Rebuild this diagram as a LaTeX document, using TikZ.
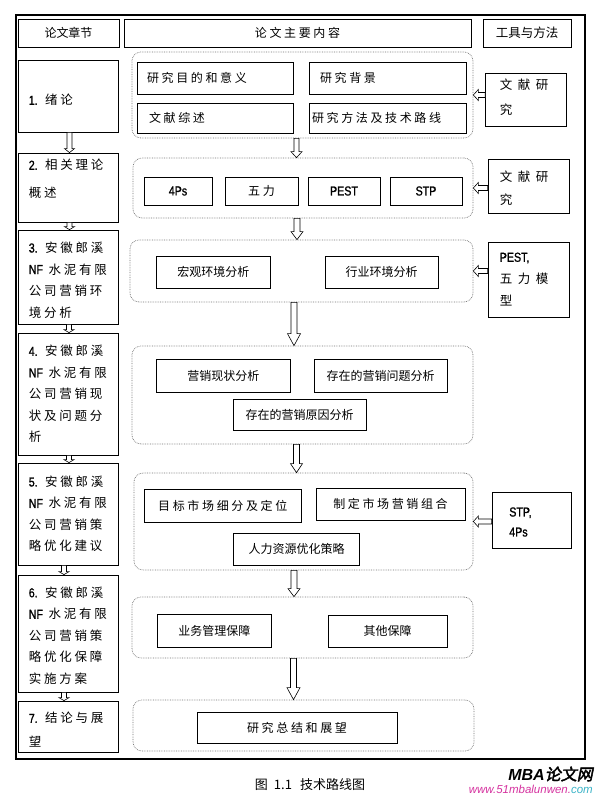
\documentclass[tikz,border=0pt]{standalone}
\usepackage{fontspec}
\setmainfont{Noto Sans CJK SC}
\newfontfamily\cjksp[LetterSpace=22]{Noto Sans CJK SC}
\newfontfamily\wmcjk[FakeSlant=0.2,FakeBold=2.5]{Noto Sans CJK SC}
\newfontfamily\wmlat{Liberation Sans}
\newfontfamily\latb[FakeStretch=0.82,FakeBold=1.2]{Liberation Sans}
\usetikzlibrary{calc}
\definecolor{wmpink}{RGB}{214,51,160}
\definecolor{wmcyan}{RGB}{60,180,200}
\tikzset{
  box/.style={draw, line width=0.8pt, inner sep=0pt},
  grp/.style={draw=black!55, densely dotted, line width=0.7pt, rounded corners=9pt, inner sep=0pt},
  tight/.style={font=\fontsize{12}{14}\selectfont},
  spaced/.style={font=\cjksp\fontsize{12}{14}\selectfont},
  latbox/.style={font=\latb\fontsize{13}{15}\selectfont},
  lefttxt/.style={anchor=west, inner sep=0pt, align=left, font=\cjksp\fontsize{12.5}{21.5}\selectfont},
  blockarrow/.style={draw=black, line width=0.6pt, fill=white},
}
\newcommand\lt[1]{{\latb\fontsize{13}{15}\selectfont #1}}
\newcommand\varr[5]{\draw[blockarrow] let \p1=(#1), \p2=(#2) in
  (\x1-#3pt,\y1) -- (\x1-#3pt,\y2+#5pt) -- (\x1-#4pt,\y2+#5pt) -- (\x1,\y2) --
  (\x1+#4pt,\y2+#5pt) -- (\x1+#3pt,\y2+#5pt) -- (\x1+#3pt,\y1) -- cycle;}
\newcommand\harr[5]{\draw[blockarrow] let \p1=(#1), \p2=(#2) in
  (\x1,\y1+#3pt) -- (\x2+#5pt,\y1+#3pt) -- (\x2+#5pt,\y1+#4pt) -- (\x2,\y1) --
  (\x2+#5pt,\y1-#4pt) -- (\x2+#5pt,\y1-#3pt) -- (\x1,\y1-#3pt) -- cycle;}
\begin{document}
\begin{tikzpicture}[x=1pt,y=-1pt]
\fill[white] (0,0) rectangle (596,796);
\useasboundingbox (0,0) rectangle (596,796);
% outer frame
\draw[line width=1.5pt] (16,15) rectangle (585,759);
% header
\node[box, tight, minimum width=101, minimum height=28] (h1) at (68.5,33) {论文章节};
\node[box, spaced, minimum width=347, minimum height=28] (h2) at (297.5,33) {论文主要内容};
\node[box, font=\fontsize{12.5}{14}\selectfont, minimum width=88, minimum height=28] (h3) at (527,33) {工具与方法};
% left column
\node[box, minimum width=100, minimum height=72] (L1) at (68,96) {};
\node[box, minimum width=100, minimum height=69] (L2) at (68,187.5) {};
\node[box, minimum width=100, minimum height=94] (L3) at (68,277) {};
\node[box, minimum width=100, minimum height=122] (L4) at (68,394) {};
\node[box, minimum width=100, minimum height=102] (L5) at (68,514) {};
\node[box, minimum width=100, minimum height=117] (L6) at (68,633.5) {};
\node[box, minimum width=100, minimum height=51] (L7) at (68,726.5) {};
\node[lefttxt] (L1t) at ($(L1.west)+(11,4)$) {\lt{1.} 绪论};
\node[lefttxt, font=\cjksp\fontsize{12.5}{28}\selectfont] (L2t) at ($(L2.west)+(11,-8.5)$) {\lt{2.} 相关理论\\概述};
\node[lefttxt] (L3t) at ($(L3.west)+(11,3)$) {\lt{3.} 安徽郎溪\\\lt{NF} 水泥有限\\公司营销环\\境分析};
\node[lefttxt] (L4t) at ($(L4.west)+(11,0)$) {\lt{4.} 安徽郎溪\\\lt{NF} 水泥有限\\公司营销现\\状及问题分\\析};
\node[lefttxt] (L5t) at ($(L5.west)+(11,0)$) {\lt{5.} 安徽郎溪\\\lt{NF} 水泥有限\\公司营销策\\略优化建议};
\node[lefttxt] (L6t) at ($(L6.west)+(11,2)$) {\lt{6.} 安徽郎溪\\\lt{NF} 水泥有限\\公司营销策\\略优化保障\\实施方案};
\node[lefttxt, font=\cjksp\fontsize{12.5}{24}\selectfont] (L7t) at ($(L7.west)+(11,3.5)$) {\lt{7.} 结论与展\\望};
% groups
\node[grp, minimum width=341, minimum height=86] (G1) at (302.5,95) {};
\node[grp, minimum width=340, minimum height=60] (G2) at (303,188) {};
\node[grp, minimum width=343, minimum height=62] (G3) at (301.5,271) {};
\node[grp, minimum width=341, minimum height=98] (G4) at (302.5,395) {};
\node[grp, minimum width=339, minimum height=97] (G5) at (303.5,521.5) {};
\node[grp, minimum width=341, minimum height=61] (G6) at (302.5,627.5) {};
\node[grp, minimum width=341, minimum height=51] (G7) at (303.5,725.5) {};
% G1 boxes
\node[box, spaced, align=left, text width=136, inner xsep=10pt, minimum height=32] (a1) at (215,78) {研究目的和意义};
\node[box, spaced, align=left, text width=135, inner xsep=11pt, minimum height=32] (a2) at (387.5,78) {研究背景};
\node[box, spaced, align=left, text width=132, inner xsep=12pt, minimum height=30] (a3) at (215,118) {文献综述};
\node[box, spaced, align=left, text width=151, inner xsep=3pt, minimum height=30] (a4) at (387.5,118) {研究方法及技术路线};
% G2 boxes
\node[box, latbox, minimum width=68, minimum height=28] (p1) at (178,191) {4Ps};
\node[box, spaced, minimum width=73, minimum height=28] (p2) at (261.5,191) {五力};
\node[box, latbox, minimum width=72, minimum height=28] (p3) at (344,191) {PEST};
\node[box, latbox, minimum width=72, minimum height=28] (p4) at (426,191) {STP};
% G3 boxes
\node[box, tight, minimum width=113.5, minimum height=32] (m1) at (213.25,272) {宏观环境分析};
\node[box, tight, minimum width=113, minimum height=32] (m2) at (381.5,272) {行业环境分析};
% G4 boxes
\node[box, tight, minimum width=133.5, minimum height=33] (s1) at (223.25,375.5) {营销现状分析};
\node[box, tight, minimum width=133, minimum height=33] (s2) at (380.5,375.5) {存在的营销问题分析};
\node[box, tight, minimum width=133, minimum height=31] (s3) at (299.5,414.5) {存在的营销原因分析};
% G5 boxes
\node[box, spaced, minimum width=157.5, minimum height=33] (t1) at (222.75,505.5) {目标市场细分及定位};
\node[box, spaced, minimum width=149, minimum height=32] (t2) at (390.5,504) {制定市场营销组合};
\node[box, tight, minimum width=126, minimum height=32] (t3) at (296.5,549) {人力资源优化策略};
% G6 boxes
\node[box, tight, minimum width=113.4, minimum height=33] (u1) at (214.3,630.5) {业务管理保障};
\node[box, tight, minimum width=119, minimum height=32] (u2) at (387.5,631) {其他保障};
% G7 box
\node[box, spaced, minimum width=200, minimum height=31] (v1) at (297,727.5) {研究总结和展望};
% right column
\node[box, minimum width=80.5, minimum height=53] (R1) at (525.75,99.5) {};
\node[box, minimum width=81, minimum height=54] (R2) at (528.5,186) {};
\node[box, minimum width=81, minimum height=75] (R3) at (528.5,279.5) {};
\node[box, minimum width=79, minimum height=56] (R5) at (531.5,520) {};
\node[lefttxt, font=\cjksp\fontsize{12.5}{25}\selectfont] (R1t) at ($(R1.west)+(14.5,-2)$) {文 献 研\\究};
\node[lefttxt, font=\cjksp\fontsize{12.5}{23}\selectfont] (R2t) at ($(R2.west)+(12,2.5)$) {文 献 研\\究};
\node[lefttxt, font=\cjksp\fontsize{12.5}{22}\selectfont] (R3t) at ($(R3.west)+(12,0)$) {\lt{PEST,}\\五 力 模\\型};
\node[lefttxt, font=\cjksp\fontsize{12.5}{20}\selectfont] (R5t) at ($(R5.west)+(17.5,2)$) {\lt{STP,}\\\lt{4Ps}};
% vertical arrows between groups
\varr{$(G1.south)+(-6,0)$}{G2.north}{2.5}{5.5}{6}
\varr{$(G2.south)+(-6,0)$}{G3.north}{3}{6}{8}
\varr{$(G3.south)+(-7.5,0)$}{G4.north}{3}{6.5}{12}
\varr{$(G4.south)+(-6,0)$}{G5.north}{3}{6}{9}
\varr{$(G5.south)+(-9.5,0)$}{G6.north}{3}{6}{8}
\varr{$(G6.south)+(-9,0)$}{G7.north}{3}{6.5}{12}
% left column arrows
\varr{$(L1.south)+(1.5,0)$}{L2.north}{2.5}{5}{4}
\varr{$(L2.south)+(1.5,0)$}{L3.north}{2.5}{5}{3}
\varr{$(L3.south)+(1,0)$}{L4.north}{2.5}{5}{3}
\varr{$(L4.south)+(1,0)$}{L5.north}{2.5}{5}{3}
\varr{$(L5.south)+(-4,0)$}{L6.north}{2.5}{5}{3}
\varr{$(L6.south)+(-4,0)$}{L7.north}{2.5}{5}{3}
% right to left arrows
\harr{R1.west |- G1.east}{G1.east}{2.5}{5.5}{5}
\harr{R2.west |- G2.east}{G2.east}{2.5}{5.5}{5}
\harr{R3.west |- G3.east}{G3.east}{2.5}{5.5}{5}
\harr{R5.west |- G5.east}{G5.east}{2.5}{5.5}{5}
% caption and watermark
\node[font=\fontsize{13}{15}\selectfont, inner sep=0pt] (cap) at (310,785) {图\hspace{6pt}1.1\hspace{8pt}技术路线图};
\node[inner sep=0pt, anchor=east] (wm1) at (593,774) {\fontsize{16}{18}\selectfont{\wmlat\bfseries\itshape MBA}{\wmcjk 论文网}};
\node[inner sep=0pt, anchor=east] (wm2) at (593,789) {\fontsize{11.5}{13}\selectfont\wmlat\itshape\textcolor{wmpink}{www.51mbalunwen.}\textcolor{wmcyan}{com}};
\end{tikzpicture}
\end{document}
